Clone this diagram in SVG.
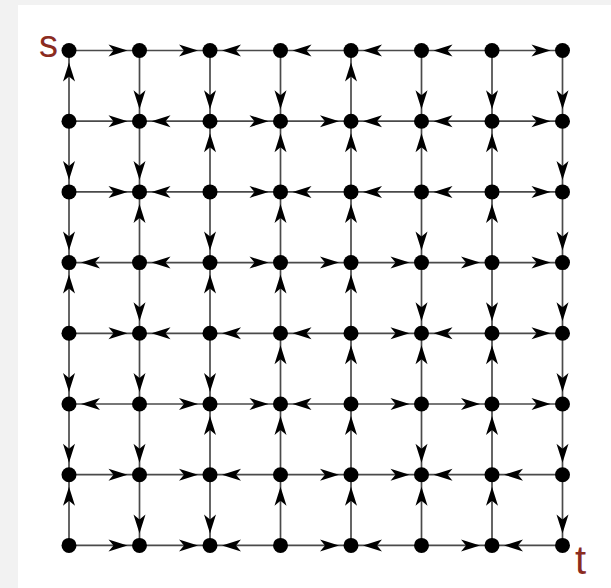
<svg xmlns="http://www.w3.org/2000/svg" width="611" height="588" viewBox="0 0 611 588">
<style>
.e{stroke:#4a4a4a;stroke-width:1.7;fill:none;marker-end:url(#a)}
.n circle{fill:#000}
.lbl{font-family:"Liberation Sans",Arial,sans-serif;fill:#8b2c1f}
</style>
<defs>
<marker id="a" markerUnits="userSpaceOnUse" orient="auto" refX="0" refY="0" markerWidth="40" markerHeight="20" overflow="visible">
<path d="M-12,0 L-31,-6 L-26,0 L-31,6 Z" fill="#000"/>
</marker>
</defs>
<rect x="0" y="0" width="611" height="588" fill="#f2f2f2"/>
<rect x="18" y="5" width="593" height="583" fill="#fff"/>
<g id="connectors">
<!-- row 0 -->
<line class="e" x1="69" y1="50.5" x2="139.5" y2="50.5"/>
<line class="e" x1="139.5" y1="50.5" x2="210" y2="50.5"/>
<line class="e" x1="280.5" y1="50.5" x2="210" y2="50.5"/>
<line class="e" x1="351" y1="50.5" x2="280.5" y2="50.5"/>
<line class="e" x1="421.5" y1="50.5" x2="351" y2="50.5"/>
<line class="e" x1="492" y1="50.5" x2="421.5" y2="50.5"/>
<line class="e" x1="492" y1="50.5" x2="562.5" y2="50.5"/>
<!-- row 1 -->
<line class="e" x1="69" y1="121.2" x2="139.5" y2="121.2"/>
<line class="e" x1="210" y1="121.2" x2="139.5" y2="121.2"/>
<line class="e" x1="210" y1="121.2" x2="280.5" y2="121.2"/>
<line class="e" x1="280.5" y1="121.2" x2="351" y2="121.2"/>
<line class="e" x1="421.5" y1="121.2" x2="351" y2="121.2"/>
<line class="e" x1="492" y1="121.2" x2="421.5" y2="121.2"/>
<line class="e" x1="492" y1="121.2" x2="562.5" y2="121.2"/>
<!-- row 2 -->
<line class="e" x1="69" y1="191.9" x2="139.5" y2="191.9"/>
<line class="e" x1="210" y1="191.9" x2="139.5" y2="191.9"/>
<line class="e" x1="210" y1="191.9" x2="280.5" y2="191.9"/>
<line class="e" x1="351" y1="191.9" x2="280.5" y2="191.9"/>
<line class="e" x1="421.5" y1="191.9" x2="351" y2="191.9"/>
<line class="e" x1="492" y1="191.9" x2="421.5" y2="191.9"/>
<line class="e" x1="492" y1="191.9" x2="562.5" y2="191.9"/>
<!-- row 3 -->
<line class="e" x1="139.5" y1="262.6" x2="69" y2="262.6"/>
<line class="e" x1="210" y1="262.6" x2="139.5" y2="262.6"/>
<line class="e" x1="210" y1="262.6" x2="280.5" y2="262.6"/>
<line class="e" x1="280.5" y1="262.6" x2="351" y2="262.6"/>
<line class="e" x1="351" y1="262.6" x2="421.5" y2="262.6"/>
<line class="e" x1="421.5" y1="262.6" x2="492" y2="262.6"/>
<line class="e" x1="492" y1="262.6" x2="562.5" y2="262.6"/>
<!-- row 4 -->
<line class="e" x1="69" y1="333.3" x2="139.5" y2="333.3"/>
<line class="e" x1="210" y1="333.3" x2="139.5" y2="333.3"/>
<line class="e" x1="280.5" y1="333.3" x2="210" y2="333.3"/>
<line class="e" x1="351" y1="333.3" x2="280.5" y2="333.3"/>
<line class="e" x1="351" y1="333.3" x2="421.5" y2="333.3"/>
<line class="e" x1="492" y1="333.3" x2="421.5" y2="333.3"/>
<line class="e" x1="492" y1="333.3" x2="562.5" y2="333.3"/>
<!-- row 5 -->
<line class="e" x1="139.5" y1="404" x2="69" y2="404"/>
<line class="e" x1="139.5" y1="404" x2="210" y2="404"/>
<line class="e" x1="210" y1="404" x2="280.5" y2="404"/>
<line class="e" x1="351" y1="404" x2="280.5" y2="404"/>
<line class="e" x1="351" y1="404" x2="421.5" y2="404"/>
<line class="e" x1="421.5" y1="404" x2="492" y2="404"/>
<line class="e" x1="492" y1="404" x2="562.5" y2="404"/>
<!-- row 6 -->
<line class="e" x1="69" y1="474.7" x2="139.5" y2="474.7"/>
<line class="e" x1="139.5" y1="474.7" x2="210" y2="474.7"/>
<line class="e" x1="280.5" y1="474.7" x2="210" y2="474.7"/>
<line class="e" x1="280.5" y1="474.7" x2="351" y2="474.7"/>
<line class="e" x1="351" y1="474.7" x2="421.5" y2="474.7"/>
<line class="e" x1="492" y1="474.7" x2="421.5" y2="474.7"/>
<line class="e" x1="562.5" y1="474.7" x2="492" y2="474.7"/>
<!-- row 7 -->
<line class="e" x1="69" y1="545.4" x2="139.5" y2="545.4"/>
<line class="e" x1="139.5" y1="545.4" x2="210" y2="545.4"/>
<line class="e" x1="280.5" y1="545.4" x2="210" y2="545.4"/>
<line class="e" x1="280.5" y1="545.4" x2="351" y2="545.4"/>
<line class="e" x1="421.5" y1="545.4" x2="351" y2="545.4"/>
<line class="e" x1="421.5" y1="545.4" x2="492" y2="545.4"/>
<line class="e" x1="562.5" y1="545.4" x2="492" y2="545.4"/>
<!-- vertical 0-1 -->
<line class="e" x1="69" y1="121.2" x2="69" y2="50.5"/>
<line class="e" x1="139.5" y1="50.5" x2="139.5" y2="121.2"/>
<line class="e" x1="210" y1="50.5" x2="210" y2="121.2"/>
<line class="e" x1="280.5" y1="50.5" x2="280.5" y2="121.2"/>
<line class="e" x1="351" y1="121.2" x2="351" y2="50.5"/>
<line class="e" x1="421.5" y1="50.5" x2="421.5" y2="121.2"/>
<line class="e" x1="492" y1="50.5" x2="492" y2="121.2"/>
<line class="e" x1="562.5" y1="50.5" x2="562.5" y2="121.2"/>
<!-- vertical 1-2 -->
<line class="e" x1="69" y1="121.2" x2="69" y2="191.9"/>
<line class="e" x1="139.5" y1="121.2" x2="139.5" y2="191.9"/>
<line class="e" x1="210" y1="191.9" x2="210" y2="121.2"/>
<line class="e" x1="280.5" y1="191.9" x2="280.5" y2="121.2"/>
<line class="e" x1="351" y1="191.9" x2="351" y2="121.2"/>
<line class="e" x1="421.5" y1="191.9" x2="421.5" y2="121.2"/>
<line class="e" x1="492" y1="191.9" x2="492" y2="121.2"/>
<line class="e" x1="562.5" y1="121.2" x2="562.5" y2="191.9"/>
<!-- vertical 2-3 -->
<line class="e" x1="69" y1="191.9" x2="69" y2="262.6"/>
<line class="e" x1="139.5" y1="262.6" x2="139.5" y2="191.9"/>
<line class="e" x1="210" y1="191.9" x2="210" y2="262.6"/>
<line class="e" x1="280.5" y1="262.6" x2="280.5" y2="191.9"/>
<line class="e" x1="351" y1="262.6" x2="351" y2="191.9"/>
<line class="e" x1="421.5" y1="191.9" x2="421.5" y2="262.6"/>
<line class="e" x1="492" y1="262.6" x2="492" y2="191.9"/>
<line class="e" x1="562.5" y1="191.9" x2="562.5" y2="262.6"/>
<!-- vertical 3-4 -->
<line class="e" x1="69" y1="333.3" x2="69" y2="262.6"/>
<line class="e" x1="139.5" y1="262.6" x2="139.5" y2="333.3"/>
<line class="e" x1="210" y1="333.3" x2="210" y2="262.6"/>
<line class="e" x1="280.5" y1="333.3" x2="280.5" y2="262.6"/>
<line class="e" x1="351" y1="333.3" x2="351" y2="262.6"/>
<line class="e" x1="421.5" y1="262.6" x2="421.5" y2="333.3"/>
<line class="e" x1="492" y1="262.6" x2="492" y2="333.3"/>
<line class="e" x1="562.5" y1="262.6" x2="562.5" y2="333.3"/>
<!-- vertical 4-5 -->
<line class="e" x1="69" y1="333.3" x2="69" y2="404"/>
<line class="e" x1="139.5" y1="333.3" x2="139.5" y2="404"/>
<line class="e" x1="210" y1="333.3" x2="210" y2="404"/>
<line class="e" x1="280.5" y1="404" x2="280.5" y2="333.3"/>
<line class="e" x1="351" y1="404" x2="351" y2="333.3"/>
<line class="e" x1="421.5" y1="404" x2="421.5" y2="333.3"/>
<line class="e" x1="492" y1="404" x2="492" y2="333.3"/>
<line class="e" x1="562.5" y1="333.3" x2="562.5" y2="404"/>
<!-- vertical 5-6 -->
<line class="e" x1="69" y1="404" x2="69" y2="474.7"/>
<line class="e" x1="139.5" y1="404" x2="139.5" y2="474.7"/>
<line class="e" x1="210" y1="474.7" x2="210" y2="404"/>
<line class="e" x1="280.5" y1="474.7" x2="280.5" y2="404"/>
<line class="e" x1="351" y1="474.7" x2="351" y2="404"/>
<line class="e" x1="421.5" y1="404" x2="421.5" y2="474.7"/>
<line class="e" x1="492" y1="474.7" x2="492" y2="404"/>
<line class="e" x1="562.5" y1="404" x2="562.5" y2="474.7"/>
<!-- vertical 6-7 -->
<line class="e" x1="69" y1="545.4" x2="69" y2="474.7"/>
<line class="e" x1="139.5" y1="474.7" x2="139.5" y2="545.4"/>
<line class="e" x1="210" y1="474.7" x2="210" y2="545.4"/>
<line class="e" x1="280.5" y1="545.4" x2="280.5" y2="474.7"/>
<line class="e" x1="351" y1="545.4" x2="351" y2="474.7"/>
<line class="e" x1="421.5" y1="545.4" x2="421.5" y2="474.7"/>
<line class="e" x1="492" y1="545.4" x2="492" y2="474.7"/>
<line class="e" x1="562.5" y1="474.7" x2="562.5" y2="545.4"/>
</g>
<g id="nodes">
<g id="n00" class="n"><circle cx="69" cy="50.5" r="7.5"/></g>
<g id="n01" class="n"><circle cx="139.5" cy="50.5" r="7.5"/></g>
<g id="n02" class="n"><circle cx="210" cy="50.5" r="7.5"/></g>
<g id="n03" class="n"><circle cx="280.5" cy="50.5" r="7.5"/></g>
<g id="n04" class="n"><circle cx="351" cy="50.5" r="7.5"/></g>
<g id="n05" class="n"><circle cx="421.5" cy="50.5" r="7.5"/></g>
<g id="n06" class="n"><circle cx="492" cy="50.5" r="7.5"/></g>
<g id="n07" class="n"><circle cx="562.5" cy="50.5" r="7.5"/></g>
<g id="n10" class="n"><circle cx="69" cy="121.2" r="7.5"/></g>
<g id="n11" class="n"><circle cx="139.5" cy="121.2" r="7.5"/></g>
<g id="n12" class="n"><circle cx="210" cy="121.2" r="7.5"/></g>
<g id="n13" class="n"><circle cx="280.5" cy="121.2" r="7.5"/></g>
<g id="n14" class="n"><circle cx="351" cy="121.2" r="7.5"/></g>
<g id="n15" class="n"><circle cx="421.5" cy="121.2" r="7.5"/></g>
<g id="n16" class="n"><circle cx="492" cy="121.2" r="7.5"/></g>
<g id="n17" class="n"><circle cx="562.5" cy="121.2" r="7.5"/></g>
<g id="n20" class="n"><circle cx="69" cy="191.9" r="7.5"/></g>
<g id="n21" class="n"><circle cx="139.5" cy="191.9" r="7.5"/></g>
<g id="n22" class="n"><circle cx="210" cy="191.9" r="7.5"/></g>
<g id="n23" class="n"><circle cx="280.5" cy="191.9" r="7.5"/></g>
<g id="n24" class="n"><circle cx="351" cy="191.9" r="7.5"/></g>
<g id="n25" class="n"><circle cx="421.5" cy="191.9" r="7.5"/></g>
<g id="n26" class="n"><circle cx="492" cy="191.9" r="7.5"/></g>
<g id="n27" class="n"><circle cx="562.5" cy="191.9" r="7.5"/></g>
<g id="n30" class="n"><circle cx="69" cy="262.6" r="7.5"/></g>
<g id="n31" class="n"><circle cx="139.5" cy="262.6" r="7.5"/></g>
<g id="n32" class="n"><circle cx="210" cy="262.6" r="7.5"/></g>
<g id="n33" class="n"><circle cx="280.5" cy="262.6" r="7.5"/></g>
<g id="n34" class="n"><circle cx="351" cy="262.6" r="7.5"/></g>
<g id="n35" class="n"><circle cx="421.5" cy="262.6" r="7.5"/></g>
<g id="n36" class="n"><circle cx="492" cy="262.6" r="7.5"/></g>
<g id="n37" class="n"><circle cx="562.5" cy="262.6" r="7.5"/></g>
<g id="n40" class="n"><circle cx="69" cy="333.3" r="7.5"/></g>
<g id="n41" class="n"><circle cx="139.5" cy="333.3" r="7.5"/></g>
<g id="n42" class="n"><circle cx="210" cy="333.3" r="7.5"/></g>
<g id="n43" class="n"><circle cx="280.5" cy="333.3" r="7.5"/></g>
<g id="n44" class="n"><circle cx="351" cy="333.3" r="7.5"/></g>
<g id="n45" class="n"><circle cx="421.5" cy="333.3" r="7.5"/></g>
<g id="n46" class="n"><circle cx="492" cy="333.3" r="7.5"/></g>
<g id="n47" class="n"><circle cx="562.5" cy="333.3" r="7.5"/></g>
<g id="n50" class="n"><circle cx="69" cy="404" r="7.5"/></g>
<g id="n51" class="n"><circle cx="139.5" cy="404" r="7.5"/></g>
<g id="n52" class="n"><circle cx="210" cy="404" r="7.5"/></g>
<g id="n53" class="n"><circle cx="280.5" cy="404" r="7.5"/></g>
<g id="n54" class="n"><circle cx="351" cy="404" r="7.5"/></g>
<g id="n55" class="n"><circle cx="421.5" cy="404" r="7.5"/></g>
<g id="n56" class="n"><circle cx="492" cy="404" r="7.5"/></g>
<g id="n57" class="n"><circle cx="562.5" cy="404" r="7.5"/></g>
<g id="n60" class="n"><circle cx="69" cy="474.7" r="7.5"/></g>
<g id="n61" class="n"><circle cx="139.5" cy="474.7" r="7.5"/></g>
<g id="n62" class="n"><circle cx="210" cy="474.7" r="7.5"/></g>
<g id="n63" class="n"><circle cx="280.5" cy="474.7" r="7.5"/></g>
<g id="n64" class="n"><circle cx="351" cy="474.7" r="7.5"/></g>
<g id="n65" class="n"><circle cx="421.5" cy="474.7" r="7.5"/></g>
<g id="n66" class="n"><circle cx="492" cy="474.7" r="7.5"/></g>
<g id="n67" class="n"><circle cx="562.5" cy="474.7" r="7.5"/></g>
<g id="n70" class="n"><circle cx="69" cy="545.4" r="7.5"/></g>
<g id="n71" class="n"><circle cx="139.5" cy="545.4" r="7.5"/></g>
<g id="n72" class="n"><circle cx="210" cy="545.4" r="7.5"/></g>
<g id="n73" class="n"><circle cx="280.5" cy="545.4" r="7.5"/></g>
<g id="n74" class="n"><circle cx="351" cy="545.4" r="7.5"/></g>
<g id="n75" class="n"><circle cx="421.5" cy="545.4" r="7.5"/></g>
<g id="n76" class="n"><circle cx="492" cy="545.4" r="7.5"/></g>
<g id="n77" class="n"><circle cx="562.5" cy="545.4" r="7.5"/></g>
</g>
<g id="labels">
<text class="lbl" x="39" y="57" font-size="38">s</text>
<text class="lbl" x="575" y="574" font-size="40">t</text>
</g>
</svg>
